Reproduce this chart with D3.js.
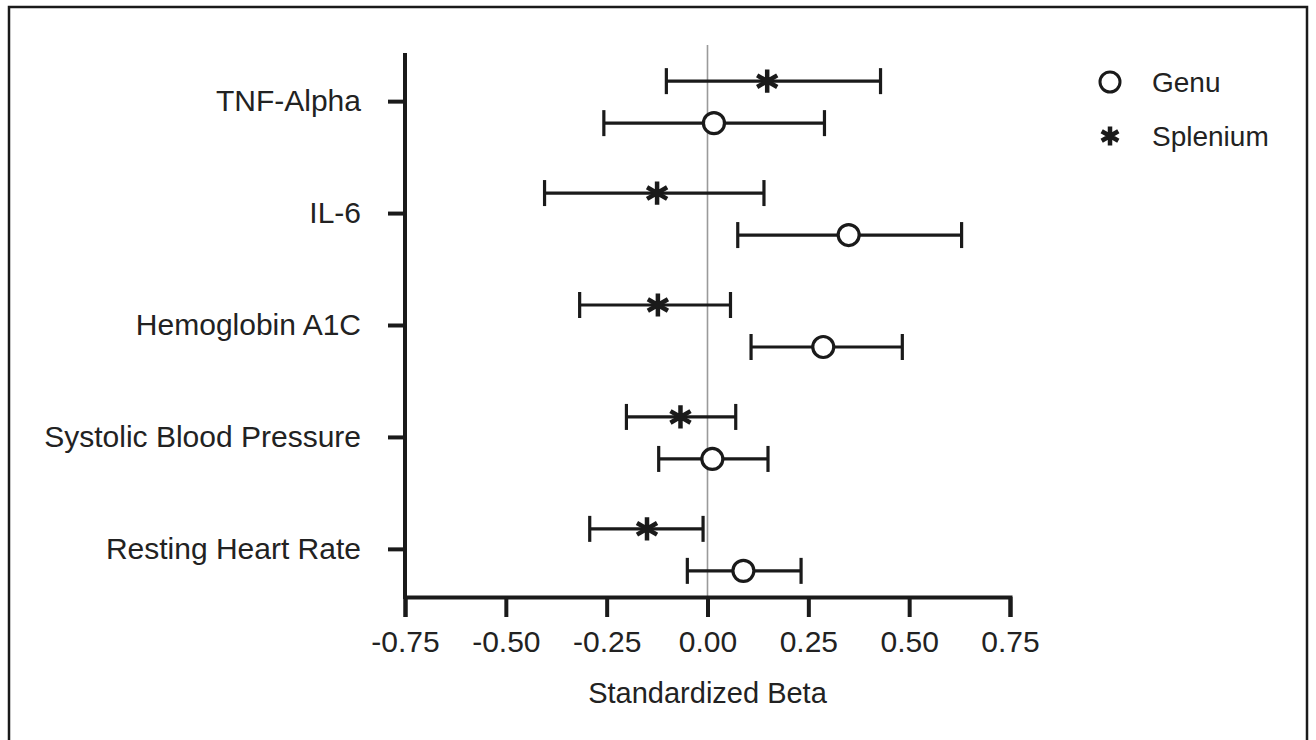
<!DOCTYPE html>
<html>
<head>
<meta charset="utf-8">
<script src="https://cdn.jsdelivr.net/npm/d3@7"></script>
<style>
  body { margin: 0; background: #fff; }
  text { font-family: "Liberation Sans", Arial, sans-serif; fill: #222; }
</style>
</head>
<body>
<div id="chart"></div>
<script>
const w = 1316;
const h = 740;

// categories, top to bottom
const measures = ["TNF-Alpha", "IL-6", "Hemoglobin A1C", "Systolic Blood Pressure", "Resting Heart Rate"];

// Splenium: estimate with lower / upper CI
const spleniumBeta  = [0.148, -0.125, -0.123, -0.067, -0.150];
const spleniumLower = [-0.102, -0.404, -0.317, -0.201, -0.292];
const spleniumUpper = [0.429, 0.140, 0.057, 0.070, -0.011];

// Genu
const genuBeta  = [0.016, 0.350, 0.287, 0.012, 0.089];
const genuLower = [-0.257, 0.075, 0.108, -0.121, -0.050];
const genuUpper = [0.290, 0.630, 0.483, 0.150, 0.232];

const xTicks = [-0.75, -0.50, -0.25, 0.00, 0.25, 0.50, 0.75];

var svg = d3.select("#chart")
            .append("svg")
            .attr("width", w)
            .attr("height", h);

// frame round the picture
svg.append("rect")
   .attr("x", 9).attr("y", 7)
   .attr("width", 1298).attr("height", 745)
   .attr("fill", "none")
   .attr("stroke", "#1a1a1a")
   .attr("stroke-width", 2.5);

var x = d3.scaleLinear()
          .domain([-0.75, 0.75])
          .range([405, 1010]);

var y = d3.scalePoint()
          .domain(measures)
          .range([53, 597])
          .padding(0.43);

var axisY0 = 597;

// zero reference line
svg.append("line")
   .attr("x1", x(0)).attr("x2", x(0))
   .attr("y1", 45).attr("y2", axisY0)
   .attr("stroke", "#9a9a9a")
   .attr("stroke-width", 1.6);

// x axis
var xAxis = d3.axisBottom(x)
              .tickValues(xTicks)
              .tickSize(20)
              .tickPadding(14)
              .tickFormat((d) => d.toFixed(2));

var gx = svg.append("g")
            .attr("transform", "translate(0," + axisY0 + ")")
            .call(xAxis);
gx.select(".domain").attr("stroke", "#1a1a1a").attr("stroke-width", 4);
gx.selectAll(".tick line").attr("stroke", "#1a1a1a").attr("stroke-width", 4);
gx.selectAll(".tick text")
  .style("font-size", "30px")
  .style("font-family", "'Liberation Sans', Arial, sans-serif")
  .attr("fill", "#222");

// y axis
var yAxis = d3.axisLeft(y)
              .tickSize(17)
              .tickPadding(27);

var gy = svg.append("g")
            .attr("transform", "translate(" + x(-0.75) + ",0)")
            .call(yAxis);
gy.select(".domain")
  .attr("d", "M0,53V" + (axisY0 + 2))
  .attr("stroke", "#1a1a1a").attr("stroke-width", 4);
gy.selectAll(".tick line").attr("stroke", "#1a1a1a").attr("stroke-width", 4);
gy.selectAll(".tick text")
  .style("font-size", "30px")
  .style("font-family", "'Liberation Sans', Arial, sans-serif")
  .attr("dy", "0.32em")
  .attr("fill", "#222");

// axis title
svg.append("text")
   .attr("x", x(0))
   .attr("y", 703)
   .attr("text-anchor", "middle")
   .style("font-size", "29px")
   .text("Standardized Beta");

// build rows
var rows = [];
measures.forEach(function(m, i) {
  rows.push({ m: m, group: "Splenium", off: -20, b: spleniumBeta[i], lo: spleniumLower[i], hi: spleniumUpper[i] });
  rows.push({ m: m, group: "Genu", off: 22, b: genuBeta[i], lo: genuLower[i], hi: genuUpper[i] });
});

var bars = svg.append("g").selectAll("g")
              .data(rows)
              .enter()
              .append("g")
              .attr("transform", (d) => "translate(0," + (y(d.m) + d.off) + ")");

bars.append("line")
    .attr("x1", (d) => x(d.lo)).attr("x2", (d) => x(d.hi))
    .attr("y1", 0).attr("y2", 0)
    .attr("stroke", "#1a1a1a").attr("stroke-width", 3.2);

bars.selectAll(".cap")
    .data((d) => [d.lo, d.hi])
    .enter()
    .append("line")
    .attr("class", "cap")
    .attr("x1", (v) => x(v)).attr("x2", (v) => x(v))
    .attr("y1", -13).attr("y2", 13)
    .attr("stroke", "#1a1a1a").attr("stroke-width", 3.2);

var star = d3.symbol().type(d3.symbolAsterisk).size(380);

bars.filter((d) => d.group === "Genu")
    .append("circle")
    .attr("cx", (d) => x(d.b)).attr("cy", 0)
    .attr("r", 10.5)
    .attr("fill", "#fff")
    .attr("stroke", "#1a1a1a").attr("stroke-width", 3.2);

bars.filter((d) => d.group === "Splenium")
    .append("path")
    .attr("transform", (d) => "translate(" + x(d.b) + ",0)")
    .attr("d", star)
    .attr("fill", "none")
    .attr("stroke", "#1a1a1a").attr("stroke-width", 4.5);

// legend
var legend = svg.append("g").attr("transform", "translate(1110,0)");
legend.append("circle")
      .attr("cx", 0).attr("cy", 82).attr("r", 10)
      .attr("fill", "#fff").attr("stroke", "#1a1a1a").attr("stroke-width", 3);
legend.append("text")
      .attr("x", 42).attr("y", 92)
      .style("font-size", "28px")
      .text("Genu");
legend.append("path")
      .attr("transform", "translate(0,136)")
      .attr("d", d3.symbol().type(d3.symbolAsterisk).size(260))
      .attr("fill", "none").attr("stroke", "#1a1a1a").attr("stroke-width", 4.5);
legend.append("text")
      .attr("x", 42).attr("y", 146)
      .style("font-size", "28px")
      .text("Splenium");
</script>
</body>
</html>
